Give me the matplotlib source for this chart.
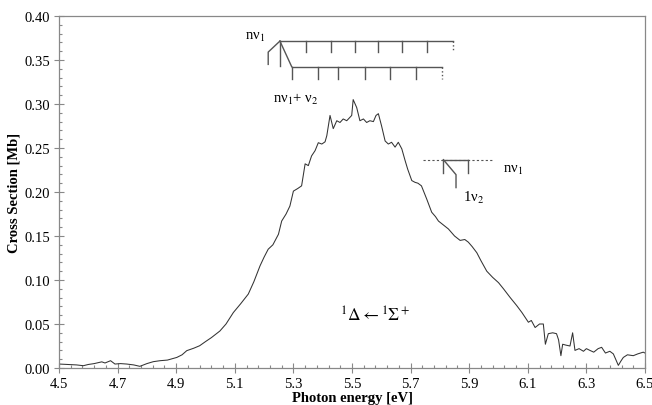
import matplotlib
matplotlib.use("Agg")
from matplotlib import pyplot as plt
from matplotlib.ticker import FixedLocator, FormatStrFormatter
import numpy as np

plt.rcParams['font.family'] = ['Liberation Serif', 'DejaVu Serif']
plt.rcParams['mathtext.fontset'] = 'stix'

# photon energy [eV] and cross section [Mb]
energy = [4.50, 4.53, 4.56, 4.583, 4.60, 4.62, 4.646, 4.657, 4.676, 4.691,
          4.71, 4.731, 4.755, 4.776, 4.80, 4.822, 4.845, 4.87, 4.902, 4.92,
          4.936, 4.96, 4.98, 5.00, 5.02, 5.049, 5.07, 5.095, 5.12, 5.146,
          5.165, 5.186, 5.20, 5.214, 5.23, 5.249, 5.26, 5.275, 5.288, 5.30,
          5.315, 5.328, 5.340, 5.351, 5.362, 5.374, 5.385, 5.397, 5.408, 5.414,
          5.425, 5.436, 5.448, 5.459, 5.470, 5.482, 5.493, 5.499, 5.504, 5.516,
          5.527, 5.539, 5.550, 5.561, 5.573, 5.582, 5.590, 5.601, 5.613, 5.624,
          5.635, 5.647, 5.658, 5.670, 5.681, 5.690, 5.704, 5.715, 5.725, 5.737,
          5.755, 5.772, 5.785, 5.795, 5.81, 5.829, 5.85, 5.869, 5.885, 5.897,
          5.91, 5.926, 5.94, 5.96, 5.98, 6.00, 6.017, 6.04, 6.062, 6.08,
          6.102, 6.112, 6.125, 6.14, 6.153, 6.16, 6.17, 6.185, 6.198, 6.205,
          6.213, 6.219, 6.23, 6.244, 6.253, 6.261, 6.275, 6.29, 6.30, 6.312,
          6.325, 6.34, 6.352, 6.365, 6.38, 6.392, 6.40, 6.409, 6.418, 6.426,
          6.44, 6.46, 6.475, 6.494, 6.50]
xsec = [0.0045, 0.0040, 0.0035, 0.0026, 0.0040, 0.0050, 0.0070, 0.0057, 0.0083, 0.0045,
        0.0050, 0.0045, 0.0035, 0.0019, 0.0050, 0.0072, 0.0083, 0.0090, 0.0120, 0.0150,
        0.0197, 0.0225, 0.0253, 0.0300, 0.0345, 0.042, 0.050, 0.063, 0.073, 0.084,
        0.098, 0.116, 0.126, 0.135, 0.140, 0.152, 0.167, 0.175, 0.184, 0.201,
        0.204, 0.207, 0.232, 0.230, 0.241, 0.247, 0.256, 0.2545, 0.257, 0.264,
        0.287, 0.272, 0.281, 0.279, 0.283, 0.281, 0.285, 0.287, 0.305, 0.296,
        0.281, 0.283, 0.279, 0.281, 0.280, 0.287, 0.289, 0.275, 0.258, 0.2545,
        0.2565, 0.251, 0.2565, 0.249, 0.236, 0.226, 0.213, 0.211, 0.210, 0.207,
        0.192, 0.177, 0.172, 0.167, 0.163, 0.158, 0.150, 0.145, 0.146, 0.143,
        0.138, 0.131, 0.122, 0.110, 0.103, 0.097, 0.090, 0.080, 0.071, 0.063,
        0.052, 0.054, 0.046, 0.050, 0.050, 0.027, 0.039, 0.040, 0.039, 0.032,
        0.014, 0.027, 0.026, 0.025, 0.040, 0.020, 0.022, 0.019, 0.022, 0.020,
        0.018, 0.022, 0.0235, 0.017, 0.019, 0.016, 0.010, 0.003, 0.008, 0.012,
        0.015, 0.014, 0.016, 0.018, 0.017]

xticks = [4.5, 4.7, 4.9, 5.1, 5.3, 5.5, 5.7, 5.9, 6.1, 6.3, 6.5]
yticks = [0.00, 0.05, 0.10, 0.15, 0.20, 0.25, 0.30, 0.35, 0.40]

# vibrational progression ladders (energy positions of the ticks)
nv1_ticks = [5.254, 5.343, 5.427, 5.510, 5.590, 5.670, 5.755, 5.846]
nv1_v2_ticks = [5.294, 5.385, 5.453, 5.544, 5.630, 5.718, 5.806]
nv1_small = [5.812, 5.897]
nv1_small_dotted = [5.743, 5.977]
v2_small = 5.855

lc = '#555555'
fig = plt.figure(figsize=(6.52, 4.06), dpi=100)
ax = fig.add_axes([59/652, 1-369/406, 586/652, 352/406])

ax.plot(energy, xsec, color='#333333', lw=0.75)

# upper ladder: n v1
y_top, y_tick = 0.3715, 0.359
ax.plot([nv1_ticks[0], nv1_ticks[-1]], [y_top, y_top], color=lc, lw=1)
for e in nv1_ticks[1:-1]:
    ax.plot([e, e], [y_top, y_tick], color=lc, lw=1)
ax.plot([nv1_ticks[-1]]*2, [y_top, y_tick], color=lc, lw=1, ls=':')
ax.plot([nv1_ticks[0]]*2, [y_top, 0.3435], color=lc, lw=1)
ax.plot([nv1_ticks[0], 5.214, 5.214], [y_top, y_tick, 0.345], color=lc, lw=1)

# lower ladder: n v1 + v2
y_low, y_low_tick = 0.3425, 0.328
ax.plot([nv1_ticks[0], nv1_v2_ticks[0]], [y_top, y_low], color=lc, lw=1)
ax.plot([nv1_v2_ticks[0], nv1_v2_ticks[-1]], [y_low, y_low], color=lc, lw=1)
for e in nv1_v2_ticks[:-1]:
    ax.plot([e, e], [y_low, y_low_tick], color=lc, lw=1)
ax.plot([nv1_v2_ticks[-1]]*2, [y_low, y_low_tick], color=lc, lw=1, ls=':')

# small ladder at right
y_s = 0.2367
ax.plot(nv1_small_dotted, [y_s, y_s], color=lc, lw=0.8, ls=(0, (2, 2)))
ax.plot(nv1_small, [y_s, y_s], color=lc, lw=1)
for e in nv1_small:
    ax.plot([e, e], [y_s, 0.2215], color=lc, lw=1)
ax.plot([nv1_small[0], v2_small, v2_small], [y_s, 0.2197, 0.205], color=lc, lw=1)

ax.text(5.135, 0.377, 'nν$_1$', fontsize=10.5, ha='left', va='center')
ax.text(5.232, 0.306, 'nν$_1$+ ν$_2$', fontsize=10.5, ha='left', va='center')
ax.text(6.015, 0.226, 'nν$_1$', fontsize=10.5, ha='left', va='center')
ax.text(5.88, 0.194, '1ν$_2$', fontsize=10.5, ha='left', va='center')
ax.text(5.58, 0.060, r'$^1\Delta \leftarrow {}^1\Sigma^+$', fontsize=12.5,
        ha='center', va='center')

ax.set_xlim(4.5, 6.5)
ax.set_ylim(0, 0.40)
ax.xaxis.set_major_locator(FixedLocator(xticks))
ax.xaxis.set_minor_locator(FixedLocator(np.arange(4.5, 6.501, 0.04)))
ax.yaxis.set_major_locator(FixedLocator(yticks))
ax.yaxis.set_minor_locator(FixedLocator(np.arange(0, 0.4001, 0.01)))
ax.xaxis.set_major_formatter(FormatStrFormatter('%.1f'))
ax.yaxis.set_major_formatter(FormatStrFormatter('%.2f'))
ax.tick_params(which='major', direction='inout', length=7, width=0.8,
               color='#888888', labelsize=10.5, pad=3)
ax.tick_params(which='minor', direction='in', length=2.5, width=0.8,
               color='#888888')
for s in ax.spines.values():
    s.set_color('#888888')
    s.set_linewidth(0.9)

ax.set_xlabel('Photon energy [eV]', fontsize=10.5, fontweight='bold', labelpad=1)
ax.set_ylabel('Cross Section [Mb]', fontsize=10.5, fontweight='bold', labelpad=3)

fig.savefig('out.png', dpi=100)
